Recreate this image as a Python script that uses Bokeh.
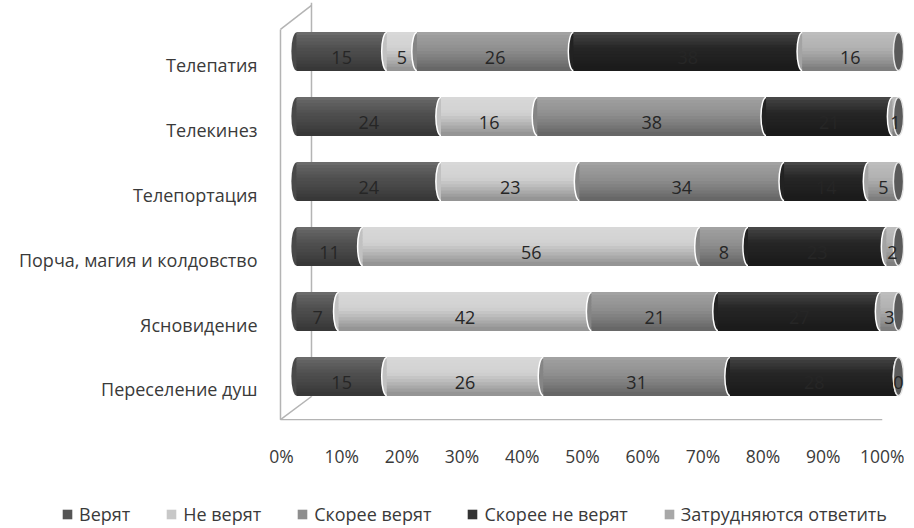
from bokeh.plotting import figure
from bokeh.layouts import column
from bokeh.models import (ColumnDataSource, Range1d, LinearAxis, FixedTicker,
                          Legend, LegendItem)
from bokeh.transform import dodge
from bokeh.embed import file_html
from bokeh.resources import INLINE
from bokeh.core.properties import value

# ---------------- data ----------------
categories = ["Телепатия", "Телекинез", "Телепортация",
              "Порча, магия и колдовство", "Ясновидение", "Переселение душ"]
series_names = ["Верят", "Не верят", "Скорее верят", "Скорее не верят",
                "Затрудняются ответить"]
believe = [15, 24, 24, 11, 7, 15]
not_believe = [5, 16, 23, 56, 42, 26]
rather_believe = [26, 38, 34, 8, 21, 31]
rather_not = [38, 21, 14, 23, 27, 28]
hard_to_say = [16, 1, 5, 2, 3, 0]
tick_values = [0, 10, 20, 30, 40, 50, 60, 70, 80, 90, 100]
tick_labels = ["0%", "10%", "20%", "30%", "40%", "50%", "60%", "70%", "80%", "90%", "100%"]

series_values = [believe, not_believe, rather_believe, rather_not, hard_to_say]
bar_colors = ["#505050", "#d2d2d2", "#919191", "#262626", "#b2b2b2"]
legend_colors = ["#555555", "#c8c8c8", "#8e8e8e", "#333333", "#a8a8a8"]

FONT = "Open Sans"
TEXT = "#3a3a3a"

W = 904
PX = 6.02                      # pixels per percent
X0 = -296 / PX
X1 = X0 + W / PX
p = figure(width=W, height=490, output_backend="svg", toolbar_location=None,
           x_axis_type=None, y_axis_type=None,
           x_range=Range1d(X0, X1), y_range=Range1d(-0.477, 5.985),
           min_border_left=0, min_border_right=0, min_border_top=0,
           min_border_bottom=70)
p.outline_line_color = None
p.xgrid.visible = False
p.ygrid.visible = False
p.background_fill_color = "white"
p.border_fill_color = "white"

n = len(categories)
ypos = [n - 1 - i for i in range(n)]

# ---------- 3D walls (decoration) ----------
wall_col = "#b4b4b4"
fx, bx = -2.66, 2.49
p.line([fx, fx], [5.54, -0.465], line_color=wall_col, line_width=1.5)
p.line([bx, bx], [5.95, -0.108], line_color=wall_col, line_width=1.5)
p.line([fx, bx], [5.54, 5.91], line_color=wall_col, line_width=1.5)
p.line([fx, bx], [-0.465, -0.108], line_color=wall_col, line_width=1.5)
p.line([fx, 97.3], [-0.465, -0.465], line_color=wall_col, line_width=1.5)


def shade(hexcol, m):
    r, g, b = int(hexcol[1:3], 16), int(hexcol[3:5], 16), int(hexcol[5:7], 16)
    if m >= 1:
        k = m - 1
        r, g, b = [int(c + (255 - c) * k) for c in (r, g, b)]
    else:
        r, g, b = [int(c * m) for c in (r, g, b)]
    return "#%02x%02x%02x" % (max(0, min(255, r)), max(0, min(255, g)), max(0, min(255, b)))


BAR_H = 0.585
BAR_OFF = 0.2
NSTRIP = 12
CAP_W = 1.7

left = [0] * n
sources = []
for k, vals in enumerate(series_values):
    right = [l + v for l, v in zip(left, vals)]
    mid = [(l + r) / 2 for l, r in zip(left, right)]
    src = ColumnDataSource(dict(y=ypos, left=left, right=right, mid=mid,
                                label=[str(v) for v in vals]))
    sources.append(src)
    base = bar_colors[k]
    p.ellipse(x="left", y=dodge("y", BAR_OFF), width=CAP_W, height=BAR_H,
              source=src, fill_color=shade(base, 0.92),
              line_color="white" if k > 0 else None, line_width=1.5)
    for j in range(NSTRIP):
        t = (j + 0.5) / NSTRIP
        if t < 0.15:
            m = 1.18 - 0.6 * t
        else:
            m = 1.09 - 0.5 * (t - 0.15) ** 1.3
        off = BAR_OFF + BAR_H / 2 - (j + 0.5) * BAR_H / NSTRIP
        p.hbar(y=dodge("y", off), left="left", right="right",
               height=BAR_H / NSTRIP * 1.35, source=src,
               fill_color=shade(base, m), line_color=None)
    left = right

# right end cap
p.ellipse(x="right", y=dodge("y", BAR_OFF), width=CAP_W, height=BAR_H,
          source=sources[-1], fill_color="#5a5a5a", line_color="#e6e6e6",
          line_width=1.5)

# value labels
for k, src in enumerate(sources):
    p.text(x="mid", y=dodge("y", BAR_OFF - 0.09), text="label", source=src,
           text_align="center", text_baseline="middle",
           text_font=value(FONT), text_font_size="18px", text_color="#262626")

# category labels (right-aligned, left of the chart walls)
cat_src = ColumnDataSource(dict(y=ypos, name=categories))
p.text(x=-39 / PX, y="y", text="name", source=cat_src,
       text_align="right", text_baseline="middle",
       text_font=value(FONT), text_font_size="18px", text_color=TEXT)

# ---------- x axis ----------
p.extra_x_ranges = {"ticks": Range1d(X0 + 2.49, X1 + 2.49)}
xaxis = LinearAxis(x_range_name="ticks", ticker=FixedTicker(ticks=tick_values),
                   major_label_overrides={v: lab for v, lab in zip(tick_values, tick_labels)})
xaxis.axis_line_color = None
xaxis.major_tick_line_color = None
xaxis.minor_tick_line_color = None
xaxis.major_tick_out = 0
xaxis.major_tick_in = 0
xaxis.major_label_standoff = 23
xaxis.major_label_text_font = FONT
xaxis.major_label_text_font_size = "17.5px"
xaxis.major_label_text_color = TEXT
p.add_layout(xaxis, "below")

# ---------- legend (separate strip below the chart) ----------
lg = figure(width=W, height=36, output_backend="svg", toolbar_location=None,
            x_axis_type=None, y_axis_type=None,
            x_range=Range1d(0, W), y_range=Range1d(0, 36),
            min_border_left=0, min_border_right=0, min_border_top=0,
            min_border_bottom=0)
lg.outline_line_color = None
lg.xgrid.visible = False
lg.ygrid.visible = False
items = []
for name, col in zip(series_names, legend_colors):
    r = lg.rect(x="x", y="y", width=1, height=1,
                source=ColumnDataSource(dict(x=[float("nan")], y=[float("nan")])),
                fill_color=col, line_color=None)
    items.append(LegendItem(label=name, renderers=[r], index=0))
legend = Legend(items=items, orientation="horizontal", location=(61, 0),
                glyph_width=12, glyph_height=12, label_standoff=6, spacing=35,
                padding=0, margin=0, border_line_color=None,
                background_fill_alpha=0, label_text_font=FONT,
                label_text_font_size="18px", label_text_color=TEXT)
lg.add_layout(legend, "center")

layout = column(p, lg, spacing=0)
open("out.html", "w").write(file_html(layout, INLINE))
